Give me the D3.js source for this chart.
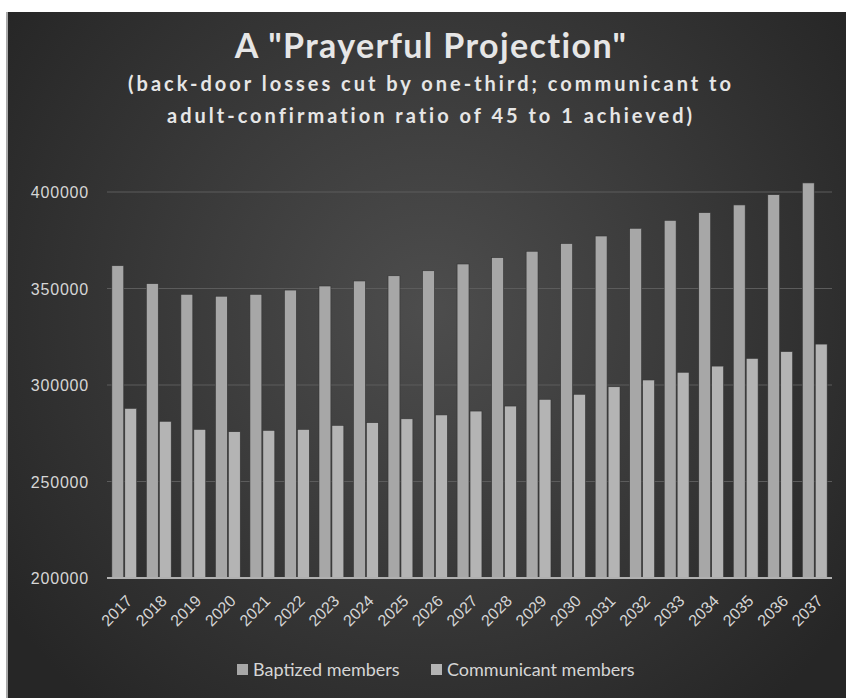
<!DOCTYPE html>
<html>
<head>
<meta charset="utf-8">
<title>A "Prayerful Projection"</title>
<script src="https://cdn.jsdelivr.net/npm/d3@7"></script>
<style>
  html, body { margin: 0; padding: 0; background: #fff; }
  svg { display: block; font-family: Lato, "Open Sans", sans-serif; }
</style>
</head>
<body>
<div id="chart"></div>
<script>
var years = ["2017","2018","2019","2020","2021","2022","2023","2024","2025","2026","2027",
             "2028","2029","2030","2031","2032","2033","2034","2035","2036","2037"];
var baptized = [361800, 352500, 347000, 346000, 347000, 349200, 351300, 353900, 356600, 359200, 362700,
                366000, 369300, 373300, 377200, 381200, 385300, 389300, 393300, 398600, 404700];
var communicant = [287900, 281200, 277000, 275800, 276500, 277000, 279100, 280500, 282500, 284500, 286500,
                   289100, 292600, 295200, 299100, 302600, 306600, 309800, 313800, 317300, 321200];
var yTicks = [200000, 250000, 300000, 350000, 400000];
var seriesNames = ["Baptized members", "Communicant members"];
var seriesColors = ["#a7a7a7", "#b4b4b4"];

var width = 846, height = 698;
var svg = d3.select("#chart").append("svg")
  .attr("width", width)
  .attr("height", height);

// fond sombre avec dégradé radial
var defs = svg.append("defs");
var grad = defs.append("radialGradient")
  .attr("id", "bg")
  .attr("gradientUnits", "userSpaceOnUse")
  .attr("cx", 430).attr("cy", 310).attr("r", 520);
grad.append("stop").attr("offset", "0%").attr("stop-color", "#4d4d4d");
grad.append("stop").attr("offset", "100%").attr("stop-color", "#262626");

svg.append("rect").attr("x", 6).attr("y", 12).attr("width", 2).attr("height", height - 12)
  .style("fill", "#a9a9a9");
svg.append("rect").attr("x", 8).attr("y", 12).attr("width", width - 8).attr("height", height - 12)
  .style("fill", "url(#bg)");

var x0 = d3.scaleBand().domain(years).range([107, 832]).paddingInner(0.28).paddingOuter(0.14);
var x1 = d3.scaleBand().domain([0, 1]).range([0, x0.bandwidth()]).paddingInner(0.08);
var y = d3.scaleLinear().domain([200000, 400000]).range([578, 192]);

// grille
svg.append("g").selectAll("line").data(yTicks.slice(1)).enter().append("line")
  .attr("x1", 107).attr("x2", 832)
  .attr("y1", function(d) { return y(d); })
  .attr("y2", function(d) { return y(d); })
  .style("stroke", "#5c5c5c").style("stroke-width", 1);

// axe y
var yAxis = svg.append("g")
  .attr("transform", "translate(89,0)")
  .call(d3.axisLeft(y).tickValues(yTicks).tickSize(0).tickPadding(0).tickFormat(d3.format("d")));
yAxis.select(".domain").remove();
yAxis.selectAll("text")
  .style("fill", "#d6d6d6").style("font-size", "16px").attr("dy", "0.35em")
  .style("letter-spacing", "0.8px");

// barres
var groups = svg.append("g").selectAll("g").data(years).enter().append("g")
  .attr("transform", function(d) { return "translate(" + x0(d) + ",0)"; });
groups.selectAll("rect")
  .data(function(d, i) { return [baptized[i], communicant[i]]; })
  .enter().append("rect")
  .attr("x", function(d, j) { return x1(j); })
  .attr("width", x1.bandwidth())
  .attr("y", function(d) { return y(d); })
  .attr("height", function(d) { return y(200000) - y(d); })
  .style("fill", function(d, j) { return seriesColors[j]; })
  .style("stroke", "#333").style("stroke-width", 0.6);

// axe x
var xAxis = svg.append("g")
  .attr("transform", "translate(0,578)")
  .call(d3.axisBottom(x0).tickSize(0).tickPadding(0));
xAxis.select(".domain").style("stroke", "#b0b0b0").style("stroke-width", 2)
  .attr("d", "M107,0H832");
xAxis.selectAll("text")
  .style("fill", "#d6d6d6").style("font-size", "16px")
  .attr("text-anchor", "end")
  .attr("dy", "0.35em")
  .attr("transform", "translate(5,20) rotate(-45)");

// titre
svg.append("text").attr("x", 431).attr("y", 58)
  .attr("text-anchor", "middle")
  .style("fill", "#e6e6e6").style("font-size", "34px").style("font-weight", "bold")
  .style("letter-spacing", "1.4px")
  .text('A "Prayerful Projection"');
var sub = ["(back-door losses cut by one-third; communicant to",
           "adult-confirmation ratio of 45 to 1 achieved)"];
svg.append("g").selectAll("text").data(sub).enter().append("text")
  .attr("x", 431)
  .attr("y", function(d, i) { return 91 + i * 32; })
  .attr("text-anchor", "middle")
  .style("fill", "#e6e6e6").style("font-size", "20px").style("font-weight", "bold")
  .style("letter-spacing", "3px")
  .text(function(d) { return d; });

// légende
var legendX = [237, 431];
var legend = svg.append("g").selectAll("g").data(seriesNames).enter().append("g")
  .attr("transform", function(d, i) { return "translate(" + legendX[i] + ",664)"; });
legend.append("rect").attr("width", 11).attr("height", 11)
  .style("fill", function(d, i) { return seriesColors[i]; });
legend.append("text").attr("x", 16).attr("y", 6).attr("dy", "0.35em")
  .style("fill", "#d6d6d6").style("font-size", "18px")
  .text(function(d) { return d; });
</script>
</body>
</html>
